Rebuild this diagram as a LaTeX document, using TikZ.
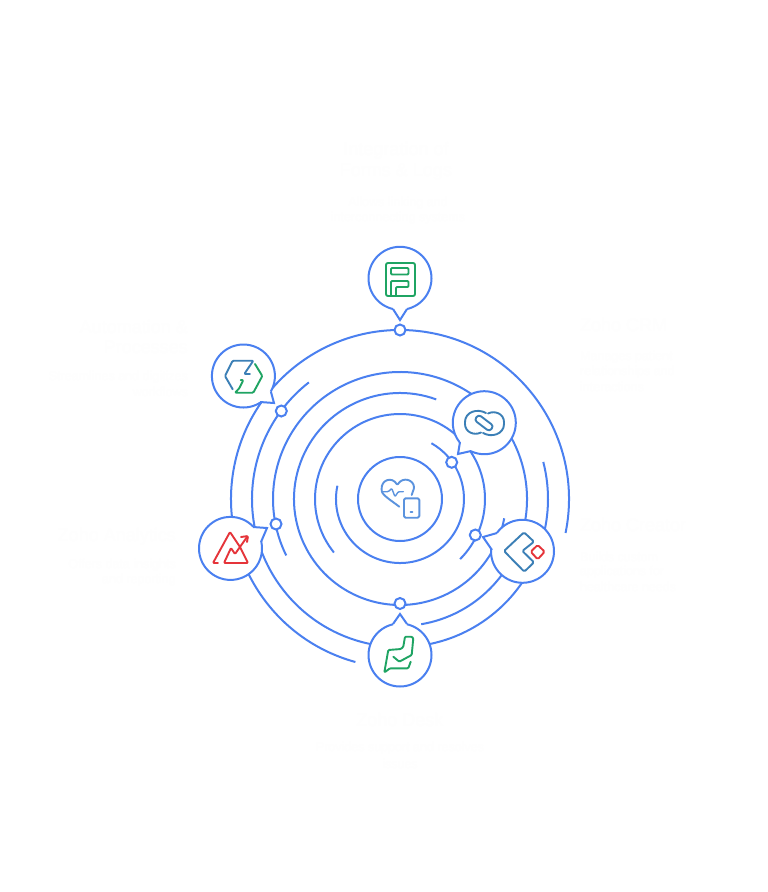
\documentclass[tikz,border=0pt]{standalone}
\usepackage{fontspec}
\setmainfont{Liberation Sans}
\definecolor{ring}{HTML}{4A80F0}
\definecolor{zgreen}{HTML}{1FA463}
\definecolor{zteal}{HTML}{3B7FB6}
\definecolor{zred}{HTML}{E5343A}
\definecolor{zlight}{HTML}{5B93DE}
\definecolor{faint}{HTML}{FEFEFE}
\tikzset{
  ringline/.style={draw=ring,line width=2pt},
  bubble/.style={circle,draw=ring,fill=white,line width=2pt,minimum size=63pt,inner sep=0pt},
  dot/.style={circle,draw=ring,fill=white,line width=2pt,minimum size=11pt,inner sep=0pt},
  hub/.style={circle,draw=ring,line width=2pt,minimum size=84pt,inner sep=0pt},
  glyph/.style={line width=1.9pt,line join=round,line cap=round,rounded corners=1pt},
  heading/.style={text=faint,font=\fontsize{18}{21}\selectfont,inner sep=0pt},
  body/.style={text=faint,font=\fontsize{12.5}{15}\selectfont,inner sep=0pt}
}
\newcommand{\ringarc}[3]{\draw[ringline] (#2:#1pt) arc[start angle=#2,end angle=#3,radius=#1pt];}
\newcommand{\bubbletail}[4]{%
  \fill[white] (#1.center) -- (#2) -- (#3) -- (#4) -- cycle;
  \draw[ring,line width=2pt,line join=miter] (#2) -- (#3) -- (#4);}
\begin{document}
\begin{tikzpicture}[x=1pt,y=-1pt]
\useasboundingbox (0,0) rectangle (768,892);
\fill[white] (0,0) rectangle (768,892);
% rings
\begin{scope}[shift={(400,499)},x=1pt,y=1pt]
  \ringarc{169}{-11.6}{254.7}
  \ringarc{148}{128}{374.5}
  \ringarc{127}{-80.4}{206.4}
  \ringarc{106}{70}{349.5}
  \ringarc{85}{-45}{219}
  \ringarc{64}{168}{420.6}
\end{scope}
\node[hub] (hub) at (400,499) {};
% dots
\node[dot] (dA) at (400,330) {};
\node[dot] (dB) at (281.3,411) {};
\node[dot] (dC) at (451.7,462.3) {};
\node[dot] (dD) at (475.3,535) {};
\node[dot] (dE) at (400,603.5) {};
\node[dot] (dF) at (276,524) {};
% bubbles
\node[bubble] (bA) at (400,278.3) {};
\node[bubble] (bB) at (243.4,376) {};
\node[bubble] (bC) at (484.3,422.7) {};
\node[bubble] (bD) at (522.5,551.3) {};
\node[bubble] (bE) at (400,655) {};
\node[bubble] (bF) at (230.5,548.4) {};
% tails
\bubbletail{bA}{393,309}{400,320}{407,309}
\bubbletail{bB}{271,392}{274,403}{260,402}
\bubbletail{bC}{460,442}{458,454}{471,451}
\bubbletail{bD}{497,533}{483,537}{492,550}
\bubbletail{bE}{393,624}{400,614}{407,624}
\bubbletail{bF}{253,527}{267,528}{261,542}
% hub icon
\draw[glyph,zlight] (411.7,495) -- (414,488.3) .. controls (414,480) and (403,476) .. (397.3,485) .. controls (392,476) and (381,480) .. (381.7,490) .. controls (382,495) and (392,501) .. (399.3,506.7);
\draw[glyph,zlight,line width=1.4pt] (381.7,491.7) -- (388.3,491.7) -- (391.7,488.3) -- (395,496.7) -- (398.3,491.7) -- (403.3,491.7);
\draw[glyph,zlight,rounded corners=1.5pt] (404,498.3) rectangle (419.3,517.7);
\draw[glyph,zlight] (410.5,511.7) -- (412.5,511.7);
% forms icon
\draw[glyph,zgreen,rounded corners=2pt] (386,263) rectangle (415,296);
\draw[glyph,zgreen] (391,268) -- (408.5,268) -- (408.5,274.5) -- (391,274.5) -- cycle;
\draw[glyph,zgreen] (391,295) -- (391,281) -- (408.5,281) -- (408.5,287) -- (396,287) -- (396,295);
% flow icon
\draw[glyph,zteal] (232.7,389.3) -- (225,376) -- (232.7,360.7) -- (253.3,360.7) -- (244.3,374) -- (250,374);
\draw[glyph,zgreen] (240.7,380) -- (243.3,380) -- (239.3,388.3) -- (235,392.7) -- (253.3,392.7) -- (262.3,376) -- (255,364);
% link icon
\draw[glyph,zteal] (486,413) .. controls (477,408) and (465,412) .. (465,423) .. controls (465,432) and (474,436) .. (481,432.5);
\draw[glyph,zteal] (483,433) .. controls (492,438) and (504,434) .. (504,423) .. controls (504,414) and (495,410) .. (488,413.5);
\draw[glyph,zteal,rotate around={-37:(484,423)},rounded corners=3pt] (474.5,419.5) rectangle (493.5,426.5);
% creator icon
\draw[glyph,zteal,rounded corners=1.5pt] (524,532.3) -- (534,541.7) -- (522.3,551) -- (534,562.3) -- (524.3,571.7) -- (504,551) -- cycle;
\draw[glyph,zred,rounded corners=1.5pt] (537.7,545) -- (544.7,551.7) -- (537.7,559.3) -- (530.7,551.7) -- cycle;
% desk icon
\draw[glyph,zgreen] (410.7,661.7) -- (408.3,668.3) -- (390,668.3) -- (384.3,672.5) -- (388.3,650) -- (401,649) -- (403.3,646.7) -- (405,636.7) -- (411.7,636.7) -- (413.3,638) -- (411.7,655) -- (399.3,661.7) -- (393.3,656.7);
% analytics icon
\draw[glyph,zred] (218,563) -- (213,563) -- (230,532) -- (240,547) -- (248,563) -- (224,563) -- (231,548) -- (235,554) -- (247,537);
\draw[glyph,zred] (241,537) -- (248,536) -- (247,542);
% near-white captions
\node[heading,anchor=center] (tA1) at (396,151) {Integration of};
\node[heading,anchor=center] (tA2) at (396,172) {Forms \& Logs};
\node[body,anchor=center] (tA3) at (398,203) {Allows linking and};
\node[body,anchor=center] (tA4) at (398,218) {interconnecting systems};
\node[heading,anchor=east] (tB1) at (188,327) {Automation \&};
\node[heading,anchor=east] (tB2) at (188,347) {Processes};
\node[body,anchor=east] (tB3) at (188,377) {Streamlines and digitizes};
\node[body,anchor=east] (tB4) at (188,392) {workflows};
\node[heading,anchor=west] (tC1) at (580,325) {Zoho CRM};
\node[body,anchor=west] (tC2) at (580,357) {Manages patient};
\node[body,anchor=west] (tC3) at (580,372) {relationships and};
\node[body,anchor=west] (tC4) at (580,387) {interactions};
\node[heading,anchor=west] (tD1) at (580,525) {Zoho Creator};
\node[body,anchor=west] (tD2) at (580,557) {Builds custom};
\node[body,anchor=west] (tD3) at (580,572) {applications for};
\node[body,anchor=west] (tD4) at (580,587) {healthcare needs};
\node[heading,anchor=center] (tE1) at (400,720) {Zoho Desk};
\node[body,anchor=center] (tE2) at (400,748) {Provides support and resolves};
\node[body,anchor=center] (tE3) at (400,764) {issues};
\node[heading,anchor=east] (tF1) at (176,537) {Zoho Analytics};
\node[body,anchor=east] (tF2) at (176,565) {Offers data insights};
\node[body,anchor=east] (tF3) at (176,580) {and reporting};
\end{tikzpicture}
\end{document}
